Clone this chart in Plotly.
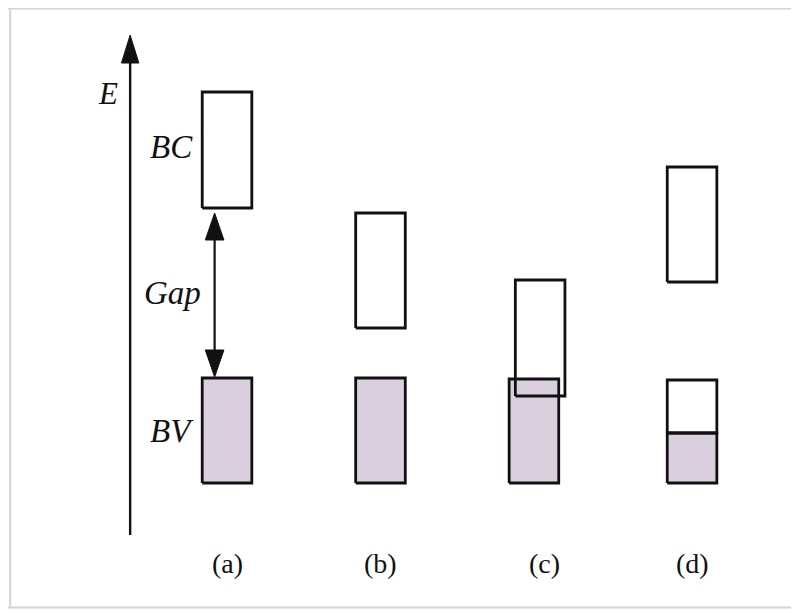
import plotly.graph_objects as go

# ---- data (energy units, arbitrary; category positions) ----
panels = ["(a)", "(b)", "(c)", "(d)"]
panel_x = [0.0, 0.99, 2.02, 3.0]
bc_offset = [0.0, 0.0, 0.0, 0.0]
bv_offset = [0.0, 0.0, -0.04, 0.0]
bc_bottom = [32.7, 20.7, 13.9, 25.3]
bc_top = [44.3, 32.2, 25.5, 36.8]
bv_bottom = [5.2, 5.2, 5.2, 5.2]
bv_top = [15.7, 15.7, 15.6, 15.5]
bv_filled_top = [15.7, 15.7, 15.6, 10.2]
band_half_width = 0.16

axis_base, axis_tip = 0.0, 50.0
axis_x = -0.625
gap_x = -0.08

FILL = "#dad0dd"
LINE = "#111111"
SERIF = "Liberation Serif, Times New Roman, serif"

fig = go.Figure()

def rect(x0, x1, y0, y1, fill, width=2.8):
    fig.add_trace(go.Scatter(
        x=[x0, x1, x1, x0, x0], y=[y0, y0, y1, y1, y0],
        mode="lines", fill="toself" if fill else "none",
        fillcolor=fill if fill else None,
        line=dict(color=LINE, width=width), hoverinfo="skip", showlegend=False))

# valence bands (filled part first, then outline)
for i in range(len(panels)):
    cx = panel_x[i] + bv_offset[i]
    x0, x1 = cx - band_half_width, cx + band_half_width
    rect(x0, x1, bv_bottom[i], bv_filled_top[i], FILL)
    if bv_filled_top[i] < bv_top[i]:
        rect(x0, x1, bv_filled_top[i], bv_top[i], None)

# conduction bands
for i in range(len(panels)):
    cx = panel_x[i] + bc_offset[i]
    rect(cx - band_half_width, cx + band_half_width, bc_bottom[i], bc_top[i], None)

def arrow_head(x, tip, direction, length=2.7, half_w=0.058):
    base = tip - direction * length
    fig.add_trace(go.Scatter(
        x=[x - half_w, x + half_w, x, x - half_w], y=[base, base, tip, base],
        mode="lines", fill="toself", fillcolor=LINE,
        line=dict(color=LINE, width=1), hoverinfo="skip", showlegend=False))

# energy axis
fig.add_trace(go.Scatter(x=[axis_x, axis_x], y=[axis_base, axis_tip - 2.0], mode="lines",
                         line=dict(color=LINE, width=2.4), hoverinfo="skip", showlegend=False))
arrow_head(axis_x, axis_tip, 1, length=2.8, half_w=0.056)

# gap arrow for (a)
g_top = bc_bottom[0] - 0.5
g_bot = bv_top[0] + 0.1
fig.add_trace(go.Scatter(x=[gap_x, gap_x], y=[g_bot + 2.0, g_top - 2.0], mode="lines",
                         line=dict(color=LINE, width=2.2), hoverinfo="skip", showlegend=False))
arrow_head(gap_x, g_top, 1, length=2.7, half_w=0.06)
arrow_head(gap_x, g_bot, -1, length=2.7, half_w=0.06)

# labels
def label(text, x, y, size, italic=True, xanchor="center"):
    fig.add_annotation(x=x, y=y, text=text, showarrow=False, xanchor=xanchor, yanchor="middle",
                       font=dict(family=SERIF, size=size, color="#111111",
                                 style="italic" if italic else "normal"))

label("E", axis_x - 0.14, 44.2, 31)
label("BC", -0.205, (bc_top[0] + bc_bottom[0]) / 2 + 0.3, 33, xanchor="right")
label("Gap", -0.155, (g_top + g_bot) / 2 + 0.2, 33, xanchor="right")
label("BV", -0.2, (bv_top[0] + bv_bottom[0]) / 2, 33, xanchor="right")
for i, p in enumerate(panels):
    label(p, panel_x[i] + (0.03 if i == 2 else 0.0), -2.8, 28, italic=False)

# frame (top, left, bottom edges)
FRAME = "#d4d4d4"
fig.add_shape(type="line", xref="paper", yref="paper", x0=0.0, x1=1.0, y0=0.999, y1=0.999,
              line=dict(color=FRAME, width=2))
fig.add_shape(type="line", xref="paper", yref="paper", x0=0.0028, x1=0.0028, y0=0.004, y1=1.0,
              line=dict(color=FRAME, width=2))
fig.add_shape(type="line", xref="paper", yref="paper", x0=0.0, x1=1.0, y0=0.004, y1=0.004,
              line=dict(color=FRAME, width=2))

fig.update_layout(
    width=791, height=602, margin=dict(l=0, r=0, t=0, b=0),
    paper_bgcolor="white", plot_bgcolor="white", showlegend=False,
    xaxis=dict(range=[-1.413, 3.690], visible=False, fixedrange=True),
    yaxis=dict(range=[-7.5, 52.7], visible=False, fixedrange=True),
)

fig.write_html("out.html")
